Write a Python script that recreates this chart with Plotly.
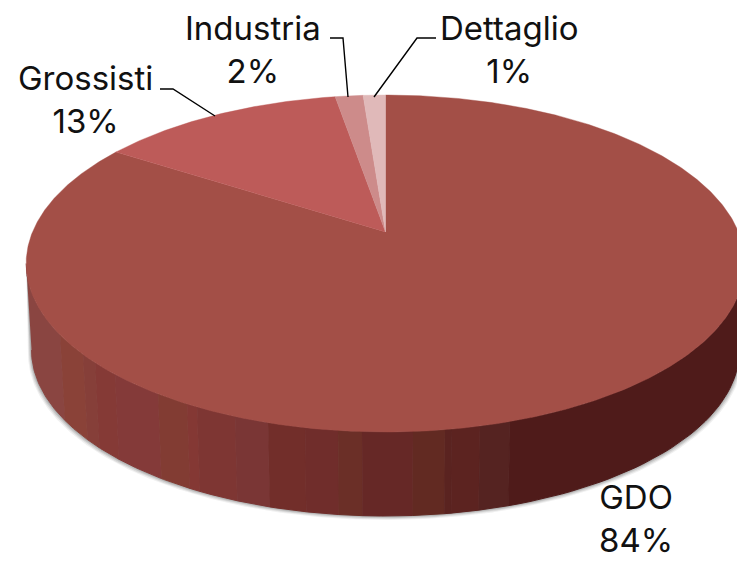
import numpy as np
import plotly.graph_objects as go

categories = ["GDO", "Grossisti", "Industria", "Dettaglio"]
shares = [84.1, 13.2, 1.5, 1.2]
slice_colors = ["#a34f47", "#bd5b59", "#cd8b8a", "#e0b9b9"]

# side-wall shading bands (right edge in px, colour)
wall_edges = [60, 83, 95, 115, 158, 187, 197, 235, 268, 305, 338, 362, 413, 445, 452, 480, 510, 760]
wall_colors = ["#8a4541", "#8a4238", "#863f39", "#853a36", "#843a39", "#823c33", "#843834", "#7e3633",
               "#7a3635", "#722e2a", "#702d2b", "#6b2f27", "#662826", "#622a22", "#5a2320", "#5c2320",
               "#552321", "#4f1b1a"]

# perspective projection of the pie's disc
CX, CY, A, B, K = 385.5, 232.0, 353.0, 162.6, 0.187
S, DY = 0.985, 87.0


def top(theta, r=1.0):
    w = 1 + K * r * np.cos(theta)
    return CX + A * r * np.sin(theta) / w, CY - B * r * np.cos(theta) / w


def low(theta):
    x, y = top(theta)
    return CX + S * (x - CX), CY + S * (y - CY) + DY


fig = go.Figure()


def poly(x, y, color, lw=0.6, opacity=1.0):
    fig.add_trace(go.Scatter(x=x, y=y, mode="lines", fill="toself", fillcolor=color,
                             line=dict(color=color, width=lw), opacity=opacity,
                             hoverinfo="skip", showlegend=False))


# soft shadow under the lower rim
t_ext = np.arccos(-K)
front = np.linspace(t_ext, 2 * np.pi - t_ext, 500)
for off, op in [(4, 0.12), (3, 0.18), (2, 0.26), (1, 0.36)]:
    lx, ly = low(front)
    lx = CX + (lx - CX) * (1 + off / 400)
    ly = ly + off
    ux, uy = top(front[::-1])
    poly(np.r_[lx, ux], np.r_[ly, uy], "#808080", lw=0, opacity=op)

# side wall, band by band
fx, _ = top(front)
order = np.argsort(fx)
theta_at = lambda px: np.interp(px, fx[order], front[order])
prev = fx.min()
for edge, col in zip(wall_edges, wall_colors):
    e = min(edge, fx.max())
    ts = np.linspace(theta_at(prev), theta_at(e), 40)
    ux, uy = top(ts)
    lx, ly = low(ts)
    poly(np.r_[ux, lx[::-1]], np.r_[uy, ly[::-1]], col, lw=1.0)
    prev = e

# top face wedges, clockwise from 12 o'clock
start = 0.0
total = sum(shares)
for share, col in zip(shares, slice_colors):
    ts = np.linspace(start, start + share / total * 2 * np.pi, max(int(share * 8), 12))
    rx, ry = top(ts)
    poly(np.r_[CX, rx, CX], np.r_[CY, ry, CY], col, lw=0.4)
    start += share / total * 2 * np.pi

# leader lines
leaders = [([160, 173, 215], [89, 89, 116]),
           ([330, 343, 348], [38, 38, 97]),
           ([436, 417, 374], [38, 38, 97])]
for lxs, lys in leaders:
    fig.add_trace(go.Scatter(x=lxs, y=lys, mode="lines", line=dict(color="#000000", width=1.4),
                             hoverinfo="skip", showlegend=False))

label_pos = [(636, 518), (85, 99), (253, 49), (509, 49)]
for name, v, (px, py) in zip(categories, shares, label_pos):
    fig.add_annotation(x=px, y=py, text=f"{name}<br>{v:.0f}%", showarrow=False,
                       font=dict(family="Inter", size=33, color="#111111"),
                       xanchor="center", yanchor="middle", align="center")

fig.update_xaxes(range=[0, 737], visible=False, fixedrange=True)
fig.update_yaxes(range=[561, 0], visible=False, fixedrange=True)
fig.update_layout(width=737, height=561, margin=dict(l=0, r=0, t=0, b=0),
                  paper_bgcolor="white", plot_bgcolor="white", showlegend=False)
fig.write_html("out.html", config={"displayModeBar": False},
               post_script="document.body.style.margin='0';")
